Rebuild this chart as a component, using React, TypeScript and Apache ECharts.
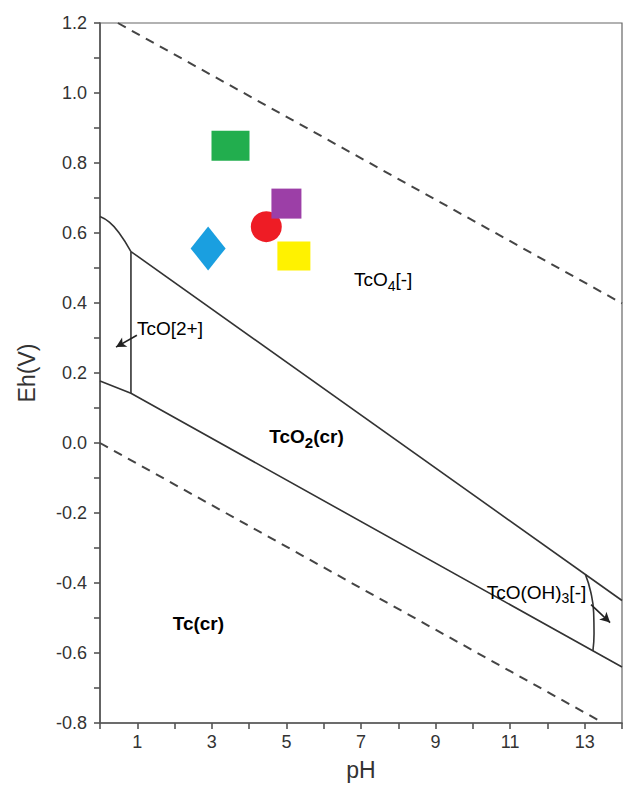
import React, { useEffect, useRef } from "react";
import * as echarts from "echarts";

// ---- Data (pH, Eh) ----
const waterUpper: number[][] = [[0.48, 1.2], [14, 0.399]];
const waterLower: number[][] = [[0, 0], [13.5, -0.8]];
const tcO4TcO2plus: number[][] = [[0, 0.647], [0.25, 0.631], [0.5, 0.602], [0.83, 0.547]];
const tcO4TcO2: number[][] = [[0.83, 0.547], [14, -0.45]];
const tcO2plusTcO2: number[][] = [[0.83, 0.547], [0.83, 0.142]];
const tcO2Tc: number[][] = [[0, 0.177], [0.83, 0.142], [14, -0.64]];
const tcOOH3Boundary: number[][] = [[13.02, -0.376], [13.16, -0.425], [13.24, -0.485], [13.25, -0.545], [13.22, -0.594]];

const markerNames = ["green", "red", "purple", "yellow", "blue"];
const markerPH = [3.5, 4.46, 5.0, 5.2, 2.9];
const markerEh = [0.849, 0.618, 0.684, 0.534, 0.556];
const markerColors = ["#22AE4E", "#EE1C25", "#9C3FA7", "#FFF200", "#1A9FE0"];
const markerSymbols = ["rect", "circle", "rect", "rect", "diamond"];
const markerSizes: (number | number[])[] = [[38, 30], 31, [30, 30], [33, 29], [35, 44]];

const labelTexts = ["{a|TcO}{s|4}{a|[-]}", "{a|TcO[2+]}", "{b|TcO}{bs|2}{b|(cr)}", "{b|Tc(cr)}", "{a|TcO(OH)}{s|3}{a|[-]}"];
const labelPH = [6.81, 0.99, 4.54, 1.95, 10.37];
const labelEh = [0.467, 0.328, 0.02, -0.516, -0.427];

const arrowFrom: number[][] = [[0.99, 0.308], [13.17, -0.462]];
const arrowTo: number[][] = [[0.43, 0.274], [13.68, -0.513]];

const xTicksLabeled = [1, 3, 5, 7, 9, 11, 13];

export default function App() {
  const ref = useRef<HTMLDivElement>(null);
  useEffect(() => {
    if (!ref.current) return;
    const chart = echarts.init(ref.current, undefined, { renderer: "svg" });
    const font = "Liberation Sans, Arial, sans-serif";
    const solid = { color: "#333", width: 1.6 };
    const lineSeries = (data: number[][], smooth = false, dashed = false) => ({
      type: "line",
      data,
      smooth,
      symbol: "none",
      silent: true,
      z: 2,
      lineStyle: dashed ? { color: "#444", width: 2, type: [9, 7] } : solid,
    });
    const series: any[] = [
      lineSeries(waterUpper, false, true),
      lineSeries(waterLower, false, true),
      lineSeries(tcO4TcO2plus, true),
      lineSeries(tcO4TcO2),
      lineSeries(tcO2plusTcO2),
      lineSeries(tcO2Tc),
      lineSeries(tcOOH3Boundary, true),
    ];
    markerNames.forEach((n, i) => {
      series.push({
        type: "scatter",
        name: n,
        data: [[markerPH[i], markerEh[i]]],
        symbol: markerSymbols[i],
        symbolSize: markerSizes[i],
        itemStyle: { color: markerColors[i], opacity: 1 },
        z: 5 + i,
      });
    });
    series.push({
      type: "line",
      data: [],
      markLine: {
        silent: true,
        symbol: ["none", "arrow"],
        symbolSize: [8, 10],
        label: { show: false },
        lineStyle: { color: "#222", width: 1.6, type: "solid" },
        data: arrowFrom.map((f, i) => [{ coord: f }, { coord: arrowTo[i] }]),
      },
    });
    const option: any = {
      animation: false,
      grid: { left: 100, right: 1, top: 23, bottom: 61, show: true, borderColor: "#666", borderWidth: 1.2 },
      xAxis: {
        type: "value",
        min: 0,
        max: 14,
        interval: 1,
        name: "pH",
        nameLocation: "middle",
        nameGap: 35,
        nameTextStyle: { fontSize: 23, color: "#333", fontFamily: font },
        axisLine: { onZero: false, lineStyle: { color: "#555", width: 1.6 } },
        axisTick: { show: true, length: 6, lineStyle: { color: "#555", width: 1.6 } },
        axisLabel: {
          margin: 10,
          fontSize: 18,
          color: "#333",
          fontFamily: font,
          formatter: (v: number) => (xTicksLabeled.indexOf(v) >= 0 ? String(v) : ""),
        },
        splitLine: { show: false },
      },
      yAxis: {
        type: "value",
        min: -0.8,
        max: 1.2,
        interval: 0.2,
        name: "Eh(V)",
        nameLocation: "middle",
        nameGap: 62,
        nameTextStyle: { fontSize: 23, color: "#333", fontFamily: font },
        axisLine: { show: true, onZero: false, lineStyle: { color: "#555", width: 1.6 } },
        axisTick: { show: true, length: 6, lineStyle: { color: "#555", width: 1.6 } },
        minorTick: { show: true, splitNumber: 2, length: 6, lineStyle: { color: "#555", width: 1.6 } },
        axisLabel: {
          margin: 13,
          fontSize: 18,
          color: "#333",
          fontFamily: font,
          formatter: (v: number) => v.toFixed(1),
        },
        splitLine: { show: false },
      },
      series,
    };
    chart.setOption(option);
    const rich = {
      a: { fontSize: 19, color: "#444", fontFamily: font },
      s: { fontSize: 14, color: "#444", fontFamily: font, padding: [12, 0, 0, 0] },
      b: { fontSize: 19, color: "#222", fontWeight: "bold", fontFamily: font },
      bs: { fontSize: 15, color: "#222", fontWeight: "bold", fontFamily: font, padding: [12, 0, 0, 0] },
    };
    const graphic = labelTexts.map((t, i) => {
      const p = chart.convertToPixel({ gridIndex: 0 }, [labelPH[i], labelEh[i]]) as number[];
      return {
        type: "text",
        x: p[0],
        y: p[1],
        z: 20,
        silent: true,
        style: { text: t, rich, align: "left", verticalAlign: "middle" },
      };
    });
    chart.setOption({ graphic });
    return () => chart.dispose();
  }, []);
  return <div ref={ref} style={{ position: "absolute", left: 0, top: 0, width: 625, height: 786, background: "#fff" }} />;
}
